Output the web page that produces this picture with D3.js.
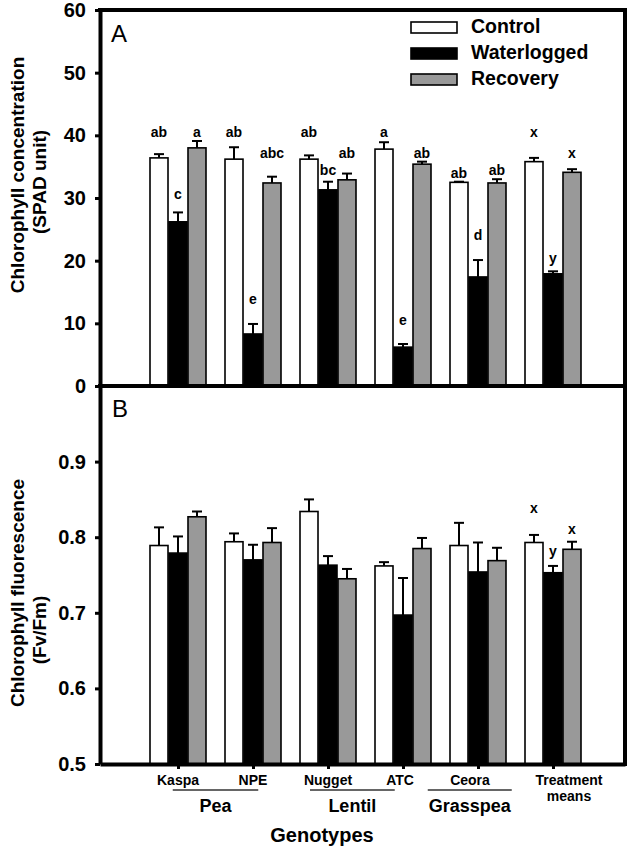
<!DOCTYPE html>
<html><head><meta charset="utf-8">
<script src="https://cdn.jsdelivr.net/npm/d3@7"></script>
<style>body{margin:0;background:#fff}text{font-family:Arial,"Liberation Sans",sans-serif}</style>
</head><body><svg id="c" width="633" height="850"></svg>
<script>
// ---- data ----
const categories = ["Kaspa","NPE","Nugget","ATC","Ceora","Treatment means"];
const seriesNames = ["Control","Waterlogged","Recovery"];
const groups = ["Pea","Lentil","Grasspea"];
// Panel A: SPAD
const spadControl = [36.4,36.2,36.2,37.8,32.5,35.8];
const spadControlErr = [0.6,1.9,0.6,1.1,0.1,0.6];
const spadWater = [26.2,8.3,31.3,6.2,17.4,17.9];
const spadWaterErr = [1.5,1.6,1.3,0.5,2.7,0.4];
const spadRecov = [38.0,32.4,32.9,35.4,32.4,34.1];
const spadRecovErr = [1.1,1.0,1.0,0.4,0.6,0.5];
const spadLetControl = ["ab","ab","ab","a","ab","x"];
const spadLetWater = ["c","e","bc","e","d","y"];
const spadLetRecov = ["a","abc","ab","ab","ab","x"];
const spadLetPosControl = [40.5,40.5,40.5,40.5,34.0,40.5];
const spadLetPosWater = [30.6,13.9,34.4,10.5,24.1,20.4];
const spadLetPosRecov = [40.5,37.2,37.2,37.2,34.4,37.2];
const spadTicks = [0,10,20,30,40,50,60];
// Panel B: Fv/Fm
const fvControl = [0.789,0.794,0.834,0.762,0.789,0.793];
const fvControlErr = [0.024,0.011,0.016,0.005,0.030,0.010];
const fvWater = [0.779,0.770,0.763,0.697,0.754,0.753];
const fvWaterErr = [0.022,0.020,0.012,0.049,0.039,0.009];
const fvRecov = [0.827,0.793,0.745,0.785,0.769,0.784];
const fvRecovErr = [0.007,0.019,0.013,0.014,0.017,0.010];
const fvLetControl = ["","","","","","x"];
const fvLetWater = ["","","","","","y"];
const fvLetRecov = ["","","","","","x"];
const fvLetPosControl = [0,0,0,0,0,0.839];
const fvLetPosWater = [0,0,0,0,0,0.782];
const fvLetPosRecov = [0,0,0,0,0,0.811];
const fvTicks = [0.5,0.6,0.7,0.8,0.9];

// ---- layout ----
const svg = d3.select("#c");
const L = 100, R = 625, T = 10, MID = 386, B = 764;
const x = d3.scaleLinear().domain([-1.04, 5.96]).range([L, R]);
const yA = d3.scaleLinear().domain([0, 60]).range([MID, T]);
const yB = d3.scaleLinear().domain([0.5, 1.0]).range([B, MID]);
const fills = ["#ffffff", "#000000", "#999999"];
const offs = [-0.2533, 0, 0.2533];
const bw = x(0.24) - x(0);

function panel(y, vals, errs, lets, letPos) {
  const g = svg.append("g");
  vals.forEach((arr, s) => {
    arr.forEach((v, i) => {
      const cx = x(i + offs[s]);
      // error bar
      const top = y(v + errs[s][i]);
      g.append("line").attr("x1", cx).attr("x2", cx).attr("y1", y(v)).attr("y2", top)
        .attr("stroke", "#000").attr("stroke-width", 2);
      g.append("line").attr("x1", cx - 5).attr("x2", cx + 5).attr("y1", top).attr("y2", top)
        .attr("stroke", "#000").attr("stroke-width", 2);
      g.append("rect").attr("x", cx - bw / 2).attr("width", bw)
        .attr("y", y(v)).attr("height", y.range()[0] - y(v))
        .attr("fill", fills[s]).attr("stroke", "#000").attr("stroke-width", 1.6);
      if (lets[s][i]) {
        g.append("text").attr("x", cx).attr("y", y(letPos[s][i]) + 5)
          .attr("text-anchor", "middle").attr("font-size", 14).attr("font-weight", "bold")
          .text(lets[s][i]);
      }
    });
  });
}
panel(yA, [spadControl, spadWater, spadRecov], [spadControlErr, spadWaterErr, spadRecovErr],
  [spadLetControl, spadLetWater, spadLetRecov], [spadLetPosControl, spadLetPosWater, spadLetPosRecov]);
panel(yB, [fvControl, fvWater, fvRecov], [fvControlErr, fvWaterErr, fvRecovErr],
  [fvLetControl, fvLetWater, fvLetRecov], [fvLetPosControl, fvLetPosWater, fvLetPosRecov]);

// ---- axes ----
function styleAxis(a) {
  a.select(".domain").attr("stroke-width", 4);
  a.selectAll(".tick line").attr("stroke-width", 3);
  a.selectAll(".tick text").attr("font-size", 20).attr("font-weight", "bold")
    .attr("font-family", "Arial, 'Liberation Sans', sans-serif").attr("fill", "#000");
}
const axA = svg.append("g").attr("transform", `translate(${L},0)`)
  .call(d3.axisLeft(yA).tickValues(spadTicks).tickSize(5).tickSizeOuter(0).tickPadding(9));
styleAxis(axA);
const axB = svg.append("g").attr("transform", `translate(${L},0)`)
  .call(d3.axisLeft(yB).tickValues(fvTicks).tickFormat(d3.format(".1f")).tickSize(5).tickSizeOuter(0).tickPadding(9));
styleAxis(axB);
const axX = svg.append("g").attr("transform", `translate(0,${B})`)
  .call(d3.axisBottom(x).tickValues(d3.range(categories.length)).tickFormat("").tickSize(5).tickSizeOuter(0));
axX.select(".domain").attr("stroke-width", 4);
axX.selectAll(".tick line").attr("stroke-width", 3);

// frame lines
svg.append("line").attr("x1", L - 2).attr("x2", R + 2).attr("y1", T).attr("y2", T).attr("stroke", "#000").attr("stroke-width", 4);
svg.append("line").attr("x1", R).attr("x2", R).attr("y1", T - 2).attr("y2", B + 2).attr("stroke", "#000").attr("stroke-width", 4);
svg.append("line").attr("x1", L - 2).attr("x2", R + 2).attr("y1", MID).attr("y2", MID).attr("stroke", "#000").attr("stroke-width", 4);

// panel letters
svg.append("text").attr("x", 111).attr("y", 42).attr("font-size", 24).text("A");
svg.append("text").attr("x", 112).attr("y", 417).attr("font-size", 24).text("B");

// legend
seriesNames.forEach((n, s) => {
  const yy = 22 + s * 26;
  svg.append("rect").attr("x", 411).attr("y", yy).attr("width", 46).attr("height", 11)
    .attr("fill", fills[s]).attr("stroke", "#000").attr("stroke-width", 1.6);
  svg.append("text").attr("x", 471).attr("y", yy + 11).attr("font-size", 19.5).attr("font-weight", "bold").text(n);
});

// category labels
const labelShift = [0, 0, 0, -3, -8, 16];
categories.forEach((c, i) => {
  const t = svg.append("text").attr("x", x(i) + labelShift[i]).attr("y", 785)
    .attr("text-anchor", "middle").attr("font-size", 14).attr("font-weight", "bold");
  const parts = c === "Treatment means" ? ["Treatment", "means"] : [c];
  parts.forEach((p, k) => t.append("tspan").attr("x", x(i) + labelShift[i]).attr("dy", k ? 16 : 0).text(p));
});
// group lines and labels
const groupSpans = [[-0.07, 1.07], [1.76, 2.89], [3.33, 4.45]];
groups.forEach((gname, k) => {
  const [a, b] = groupSpans[k];
  svg.append("line").attr("x1", x(a)).attr("x2", x(b)).attr("y1", 790).attr("y2", 790)
    .attr("stroke", "#333").attr("stroke-width", 1.3);
  svg.append("text").attr("x", (x(a) + x(b)) / 2).attr("y", 812).attr("text-anchor", "middle")
    .attr("font-size", 18).attr("font-weight", "bold").text(gname);
});
svg.append("text").attr("x", 322).attr("y", 842).attr("text-anchor", "middle")
  .attr("font-size", 20).attr("font-weight", "bold").text("Genotypes");

// y titles
function ytitle(txt, cx, cy) {
  svg.append("text").attr("transform", `translate(${cx},${cy}) rotate(-90)`)
    .attr("text-anchor", "middle").attr("font-size", 19).attr("font-weight", "bold").text(txt);
}
ytitle("Chlorophyll concentration", 24, 175);
ytitle("(SPAD unit)", 46, 182);
ytitle("Chlorophyll fluorescence", 24, 593);
ytitle("(Fv/Fm)", 46, 630);
</script></body></html>
